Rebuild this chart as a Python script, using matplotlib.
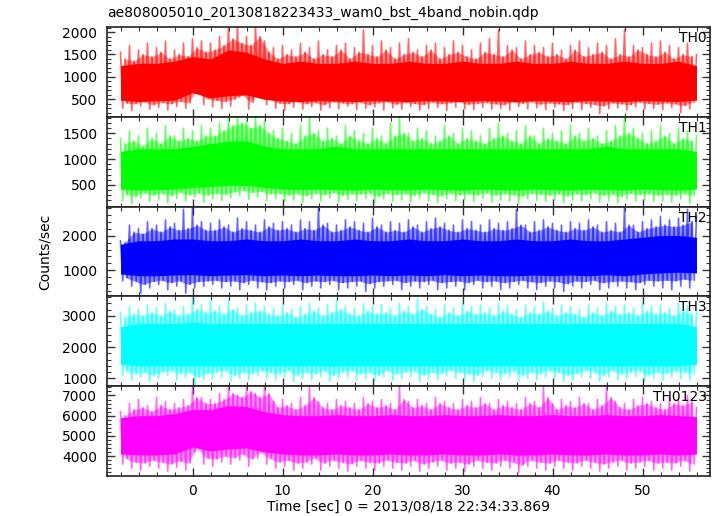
import matplotlib
matplotlib.use("Agg")
import matplotlib.pyplot as plt
from matplotlib.ticker import MultipleLocator
import numpy as np

# time of each reading (sec from 2013/08/18 22:34:33.869)
t_sec = np.arange(-8, 57, 1)
t_core = np.arange(-8, 57, 2)

# per second: highest/lowest spike (hi/lo) and next highest/lowest (hi2/lo2)
th0_hi = [1550, 1700, 1600, 1750, 1650, 1800, 1600, 1750, 1850, 1800,
          1750, 1900, 2150, 2150, 1900, 2150, 1800, 1650, 1700, 1600,
          1750, 1650, 1800, 1600, 1700, 1750, 1650, 2050, 1700, 1800,
          1650, 1750, 1850, 1600, 1700, 1750, 1650, 1800, 1700, 1600,
          1750, 1850, 2050, 1700, 1650, 1800, 1700, 1650, 1750, 1600,
          1700, 1800, 1650, 1750, 1700, 1850, 2050, 1700, 1650, 1750,
          1800, 1700, 1650, 1750, 1500]
th0_lo = [300, 250, 350, 280, 320, 260, 340, 300, 650, 380,
          330, 300, 350, 550, 280, 800, 380, 300, 260, 320,
          280, 340, 260, 310, 290, 350, 270, 300, 330, 260,
          310, 280, 340, 260, 300, 320, 250, 330, 290, 270,
          320, 280, 300, 260, 340, 290, 310, 270, 330, 250,
          300, 270, 320, 180, 290, 310, 260, 330, 280, 300,
          270, 320, 200, 290, 250]
th0_hi2 = [1400, 1350, 1500, 1450, 1550, 1400, 1500, 1450, 1650, 1550,
           1600, 1700, 1850, 1750, 1700, 1900, 1550, 1400, 1500, 1450,
           1550, 1400, 1500, 1450, 1600, 1400, 1550, 1500, 1450, 1600,
           1400, 1500, 1550, 1450, 1600, 1400, 1500, 1550, 1450, 1400,
           1550, 1500, 1450, 1600, 1400, 1500, 1550, 1450, 1500, 1400,
           1600, 1450, 1500, 1550, 1400, 1500, 1450, 1600, 1500, 1450,
           1550, 1400, 1500, 1450, 1350]
th0_lo2 = [420, 400, 450, 380, 430, 400, 460, 420, 700, 520,
           480, 450, 500, 600, 430, 750, 500, 420, 400, 450,
           400, 430, 380, 450, 420, 400, 440, 380, 420, 450,
           390, 430, 410, 380, 440, 400, 420, 450, 390, 410,
           430, 400, 380, 440, 410, 450, 390, 420, 400, 380,
           440, 410, 390, 350, 420, 400, 380, 440, 410, 390,
           420, 400, 360, 430, 380]

th1_hi = [1400, 1550, 1450, 1600, 1500, 1650, 1450, 1600, 1550, 1650,
          1600, 1700, 1850, 1850, 1800, 1850, 1750, 1550, 1600, 1500,
          1650, 1850, 1550, 1600, 1450, 1650, 1550, 1500, 1600, 1450,
          1700, 1850, 1500, 1600, 1550, 1450, 1650, 1500, 1600, 1550,
          1450, 1600, 1700, 1500, 1550, 1650, 1450, 1600, 1500, 1550,
          1650, 1500, 1600, 1450, 1550, 1650, 1850, 1600, 1500, 1550,
          1650, 1500, 1600, 1550, 1450]
th1_lo = [200, 130, 250, 180, 220, 150, 240, 190, 260, 170,
          230, 200, 250, 300, 220, 260, 200, 240, 180, 210,
          160, 230, 190, 250, 170, 220, 200, 240, 150, 230,
          190, 210, 170, 250, 200, 160, 230, 190, 220, 180,
          240, 170, 210, 190, 150, 230, 200, 180, 220, 160,
          210, 190, 240, 170, 200, 150, 230, 190, 220, 180,
          200, 170, 230, 150, 210]
th1_hi2 = [1300, 1350, 1250, 1400, 1300, 1450, 1350, 1400, 1350, 1450,
           1450, 1550, 1650, 1700, 1600, 1650, 1500, 1400, 1350, 1300,
           1450, 1500, 1350, 1400, 1300, 1450, 1350, 1300, 1400, 1300,
           1450, 1500, 1350, 1400, 1300, 1350, 1450, 1300, 1400, 1350,
           1300, 1400, 1450, 1350, 1300, 1450, 1300, 1400, 1350, 1300,
           1450, 1350, 1400, 1300, 1350, 1450, 1500, 1400, 1300, 1350,
           1450, 1300, 1400, 1350, 1250]
th1_lo2 = [320, 280, 350, 300, 340, 290, 360, 310, 350, 300,
           340, 320, 360, 400, 350, 380, 330, 340, 300, 330,
           290, 340, 310, 360, 300, 330, 320, 350, 280, 340,
           310, 330, 300, 350, 320, 290, 340, 310, 330, 300,
           350, 300, 330, 310, 280, 340, 320, 300, 330, 290,
           330, 310, 350, 300, 320, 280, 340, 310, 330, 300,
           320, 300, 340, 290, 330]

th2_hi = [1850, 2300, 2200, 2400, 2300, 2450, 2350, 2750, 2800, 2400,
          2350, 2450, 2300, 2500, 2400, 2300, 2450, 2350, 2400, 2300,
          2450, 2400, 2800, 2350, 2300, 2450, 2400, 2350, 2500, 2300,
          2400, 2350, 2450, 2300, 2400, 2500, 2350, 2300, 2450, 2400,
          2300, 2450, 2350, 2400, 2750, 2300, 2400, 2450, 2350, 2300,
          2400, 2350, 2450, 2300, 2400, 2350, 2800, 2300, 2400, 2450,
          2550, 2450, 2500, 2750, 2550]
th2_lo = [700, 550, 350, 500, 600, 450, 550, 350, 500, 550,
          600, 500, 550, 450, 600, 500, 450, 550, 500, 600,
          450, 550, 500, 600, 450, 500, 550, 400, 500, 550,
          600, 450, 550, 500, 600, 450, 500, 550, 450, 600,
          500, 550, 450, 500, 600, 500, 450, 550, 500, 400,
          550, 500, 600, 450, 500, 550, 500, 450, 600, 550,
          500, 450, 550, 500, 600]
th2_hi2 = [1800, 2100, 2050, 2200, 2100, 2250, 2150, 2200, 2300, 2150,
           2150, 2250, 2100, 2200, 2150, 2100, 2250, 2150, 2200, 2100,
           2200, 2150, 2300, 2100, 2150, 2250, 2150, 2100, 2250, 2100,
           2150, 2100, 2250, 2100, 2200, 2250, 2150, 2100, 2200, 2150,
           2100, 2200, 2150, 2200, 2300, 2100, 2150, 2250, 2150, 2100,
           2200, 2150, 2250, 2100, 2150, 2100, 2300, 2100, 2200, 2250,
           2300, 2250, 2300, 2400, 2300]
th2_lo2 = [800, 700, 600, 680, 720, 650, 700, 600, 680, 700,
           720, 680, 700, 650, 720, 680, 650, 700, 680, 720,
           650, 700, 680, 720, 650, 680, 700, 620, 680, 700,
           720, 650, 700, 680, 720, 650, 680, 700, 650, 720,
           680, 700, 650, 680, 720, 680, 650, 700, 680, 620,
           700, 680, 720, 650, 680, 700, 680, 650, 720, 700,
           720, 700, 750, 720, 780]

th3_hi = [3100, 3300, 3200, 3350, 3250, 3400, 3200, 3300, 3600, 3350,
          3450, 3300, 3500, 3250, 3350, 3400, 3300, 3250, 3350, 3200,
          3300, 3400, 3250, 3350, 3500, 3300, 3250, 3400, 3300, 3350,
          3250, 3400, 3300, 3550, 3300, 3200, 3350, 3250, 3400, 3300,
          3350, 3250, 3400, 3300, 3200, 3350, 3300, 3450, 3250, 3350,
          3300, 3200, 3350, 3250, 3400, 3300, 3350, 3250, 3400, 3300,
          3350, 3250, 3400, 3300, 3150]
th3_lo = [1100, 950, 1050, 900, 1000, 1100, 950, 1050, 800, 950,
          1000, 1050, 900, 1000, 950, 1100, 1000, 950, 1050, 900,
          1000, 950, 1050, 900, 1000, 1050, 950, 1000, 900, 1050,
          950, 1000, 1050, 900, 1000, 950, 1100, 1000, 950, 900,
          1050, 1000, 950, 1050, 900, 1000, 950, 1050, 1000, 900,
          950, 1050, 1000, 900, 1050, 950, 1000, 1050, 900, 1000,
          950, 1050, 1000, 950, 1100]
th3_hi2 = [2950, 3050, 3000, 3100, 3000, 3150, 3000, 3050, 3200, 3100,
           3150, 3050, 3200, 3000, 3100, 3150, 3050, 3000, 3100, 2950,
           3050, 3150, 3000, 3100, 3200, 3050, 3000, 3150, 3050, 3100,
           3000, 3150, 3050, 3200, 3050, 2950, 3100, 3000, 3150, 3050,
           3100, 3000, 3150, 3050, 2950, 3100, 3050, 3150, 3000, 3100,
           3050, 2950, 3100, 3000, 3150, 3050, 3100, 3000, 3150, 3050,
           3100, 3000, 3150, 3050, 2950]
th3_lo2 = [1250, 1150, 1200, 1100, 1200, 1250, 1150, 1200, 1050, 1150,
           1200, 1250, 1100, 1200, 1150, 1250, 1200, 1150, 1250, 1100,
           1200, 1150, 1250, 1100, 1200, 1250, 1150, 1200, 1100, 1250,
           1150, 1200, 1250, 1100, 1200, 1150, 1250, 1200, 1150, 1100,
           1250, 1200, 1150, 1250, 1100, 1200, 1150, 1250, 1200, 1100,
           1150, 1250, 1200, 1100, 1250, 1150, 1200, 1250, 1100, 1200,
           1150, 1250, 1200, 1150, 1250]

th0123_hi = [6200, 6600, 6800, 6500, 6900, 6700, 6600, 6800, 7400, 6900,
             6800, 7100, 7450, 7000, 7450, 7100, 7450, 6700, 6800, 6600,
             6900, 7450, 6700, 6600, 6800, 6700, 6600, 6900, 6700, 6800,
             6600, 7450, 6700, 6800, 6600, 6900, 6700, 6600, 6800, 6700,
             6900, 6600, 6800, 6700, 6600, 6900, 6700, 7400, 6600, 6800,
             6700, 6900, 6600, 6800, 7450, 6700, 6600, 6800, 6900, 6700,
             6600, 6900, 6800, 7000, 6400]
th0123_lo = [3600, 3400, 3300, 3500, 3400, 3250, 3450, 3300, 4200, 3600,
             3500, 3700, 3600, 3800, 3500, 3900, 3600, 3400, 3500, 3300,
             3400, 3600, 3300, 3500, 3400, 3250, 3500, 3400, 3300, 3500,
             3400, 3300, 3500, 3250, 3400, 3500, 3300, 3400, 3250, 3500,
             3400, 3300, 3500, 3400, 3200, 3500, 3400, 3300, 3500, 3400,
             3300, 3500, 3400, 3250, 3400, 3500, 3300, 3400, 3500, 3300,
             3400, 3300, 3500, 3250, 3500]
th0123_hi2 = [6000, 6300, 6400, 6200, 6500, 6300, 6400, 6500, 6900, 6600,
              6600, 6800, 7100, 6900, 7200, 6900, 7100, 6400, 6500, 6300,
              6500, 6900, 6400, 6300, 6500, 6400, 6300, 6600, 6400, 6500,
              6300, 6800, 6400, 6500, 6300, 6600, 6400, 6300, 6500, 6400,
              6600, 6300, 6500, 6400, 6300, 6600, 6400, 6900, 6300, 6500,
              6400, 6600, 6300, 6500, 6900, 6400, 6300, 6500, 6600, 6400,
              6300, 6600, 6500, 6700, 6200]
th0123_lo2 = [3900, 3700, 3650, 3800, 3700, 3600, 3750, 3650, 4400, 3900,
              3850, 4000, 3900, 4100, 3850, 4200, 3900, 3700, 3800, 3650,
              3700, 3900, 3650, 3800, 3700, 3600, 3800, 3700, 3650, 3800,
              3700, 3650, 3800, 3600, 3700, 3800, 3650, 3700, 3600, 3800,
              3700, 3650, 3800, 3700, 3550, 3800, 3700, 3650, 3800, 3700,
              3650, 3800, 3700, 3600, 3700, 3800, 3650, 3700, 3800, 3650,
              3700, 3650, 3800, 3600, 3800]

# dense (solid) part of each curve, one reading every 2 s
th0_core_hi = [1250, 1300, 1300, 1350, 1450, 1400, 1600, 1550, 1400, 1300, 1350,
               1300, 1300, 1350, 1300, 1300, 1350, 1300, 1300, 1350, 1300, 1300,
               1350, 1300, 1300, 1350, 1300, 1300, 1350, 1300, 1300, 1350, 1250]
th0_core_lo = [480, 450, 470, 480, 650, 530, 580, 600, 500, 460, 450,
               470, 460, 450, 470, 460, 450, 470, 460, 450, 470, 460,
               450, 470, 460, 450, 470, 460, 450, 470, 460, 450, 480]
th1_core_hi = [1150, 1200, 1200, 1200, 1250, 1300, 1350, 1350, 1250, 1200, 1200,
               1200, 1250, 1200, 1200, 1200, 1200, 1200, 1200, 1200, 1200, 1200,
               1200, 1200, 1200, 1200, 1200, 1250, 1200, 1200, 1200, 1200, 1150]
th1_core_lo = [420, 400, 410, 420, 450, 470, 490, 490, 450, 420, 410,
               420, 410, 400, 420, 410, 400, 420, 410, 400, 420, 410,
               400, 420, 410, 400, 420, 410, 400, 420, 410, 400, 420]
th2_core_hi = [1750, 1850, 1850, 1900, 1900, 1850, 1850, 1900, 1850, 1850, 1900,
               1850, 1850, 1900, 1850, 1850, 1900, 1850, 1850, 1900, 1850, 1850,
               1900, 1850, 1850, 1900, 1850, 1850, 1900, 1950, 2000, 2000, 1950]
th2_core_lo = [900, 850, 850, 870, 880, 850, 870, 880, 850, 870, 850,
               870, 850, 850, 870, 850, 870, 850, 880, 850, 870, 850,
               850, 870, 850, 870, 850, 880, 850, 900, 930, 950, 930]
th3_core_hi = [2650, 2750, 2750, 2750, 2800, 2750, 2750, 2750, 2750, 2750, 2750,
               2750, 2750, 2750, 2750, 2750, 2750, 2750, 2750, 2750, 2750, 2750,
               2750, 2750, 2750, 2750, 2750, 2750, 2750, 2750, 2750, 2750, 2650]
th3_core_lo = [1450, 1400, 1400, 1400, 1400, 1400, 1400, 1400, 1400, 1400, 1400,
               1400, 1400, 1400, 1400, 1400, 1400, 1400, 1400, 1400, 1400, 1400,
               1400, 1400, 1400, 1400, 1400, 1400, 1400, 1400, 1400, 1400, 1450]
th0123_core_hi = [5900, 6000, 6000, 6100, 6300, 6300, 6500, 6450, 6200, 6050, 6000,
                  6000, 6050, 6000, 6000, 6050, 6000, 6000, 6050, 6000, 6000, 6050,
                  6000, 6000, 6050, 6000, 6000, 6050, 6000, 6000, 6050, 6000, 5950]
th0123_core_lo = [4100, 4050, 4050, 4100, 4450, 4250, 4350, 4400, 4200, 4100, 4050,
                  4050, 4100, 4050, 4050, 4100, 4050, 4050, 4100, 4050, 4050, 4100,
                  4050, 4050, 4100, 4050, 4050, 4100, 4050, 4050, 4100, 4050, 4100]

names = ["TH0", "TH1", "TH2", "TH3", "TH0123"]
colors = ["#ff0000", "#00ff00", "#0000ff", "#00ffff", "#ff00ff"]
highs = [th0_hi, th1_hi, th2_hi, th3_hi, th0123_hi]
lows = [th0_lo, th1_lo, th2_lo, th3_lo, th0123_lo]
highs2 = [th0_hi2, th1_hi2, th2_hi2, th3_hi2, th0123_hi2]
lows2 = [th0_lo2, th1_lo2, th2_lo2, th3_lo2, th0123_lo2]
core_highs = [th0_core_hi, th1_core_hi, th2_core_hi, th3_core_hi, th0123_core_hi]
core_lows = [th0_core_lo, th1_core_lo, th2_core_lo, th3_core_lo, th0123_core_lo]
ylims = [(110, 2112), (80, 1820), (257, 2829), (750, 3620), (3010, 7460)]
ymajor = [500, 500, 1000, 1000, 1000]
yminor = [100, 100, 200, 200, 200]

plt.rcParams['font.family'] = ['DejaVu Sans']
plt.rcParams['font.size'] = 10

fig, axes = plt.subplots(5, 1, sharex=True, figsize=(7.17, 5.16), dpi=100)
fig.subplots_adjust(left=107/717, right=710/717, top=1-27/516, bottom=1-476/516, hspace=0)

for i, ax in enumerate(axes):
    col = colors[i]
    # zig-zag hi -> lo -> hi2 -> lo2 inside each second, like a dense unbinned light curve
    zx = np.column_stack([t_sec, t_sec + 0.25, t_sec + 0.5, t_sec + 0.75]).ravel()
    zy = np.column_stack([highs[i], lows[i], highs2[i], lows2[i]]).ravel()
    keep = zx <= 56.0
    fx = t_sec + 0.5
    fkeep = fx <= 56.0
    ax.fill_between(fx[fkeep], np.array(lows2[i])[fkeep], np.array(highs2[i])[fkeep],
                    color=col, alpha=0.45, lw=0)
    ax.plot(zx[keep], zy[keep], color=col, lw=1.2, alpha=0.6)
    ax.fill_between(t_core, core_lows[i], core_highs[i], color=col, lw=0, zorder=3)
    ax.set_ylim(*ylims[i])
    ax.yaxis.set_major_locator(MultipleLocator(ymajor[i]))
    ax.yaxis.set_minor_locator(MultipleLocator(yminor[i]))
    ax.xaxis.set_major_locator(MultipleLocator(10))
    ax.xaxis.set_minor_locator(MultipleLocator(2))
    ax.tick_params(which='both', direction='in', top=True, right=True, color='#333333')
    ax.tick_params(which='major', length=6, width=1, pad=7)
    ax.tick_params(which='minor', length=3, width=0.8)
    for s in ax.spines.values():
        s.set_linewidth(1.2)
        s.set_color('#222222')
    ax.text(0.995, 0.955, names[i], transform=ax.transAxes, ha='right', va='top', zorder=5)

axes[0].set_xlim(-9.5, 57.5)
axes[-1].tick_params(axis='x', pad=6)

fig.text(107/717, 1-13/516, "ae808005010_20130818223433_wam0_bst_4band_nobin.qdp",
         ha='left', va='center')
fig.text(45/717, 1-251.5/516, "Counts/sec", rotation=90, ha='center', va='center')
fig.text(408.5/717, 1-507/516, "Time [sec] 0 = 2013/08/18 22:34:33.869",
         ha='center', va='center')

fig.savefig("out.png", dpi=100)
